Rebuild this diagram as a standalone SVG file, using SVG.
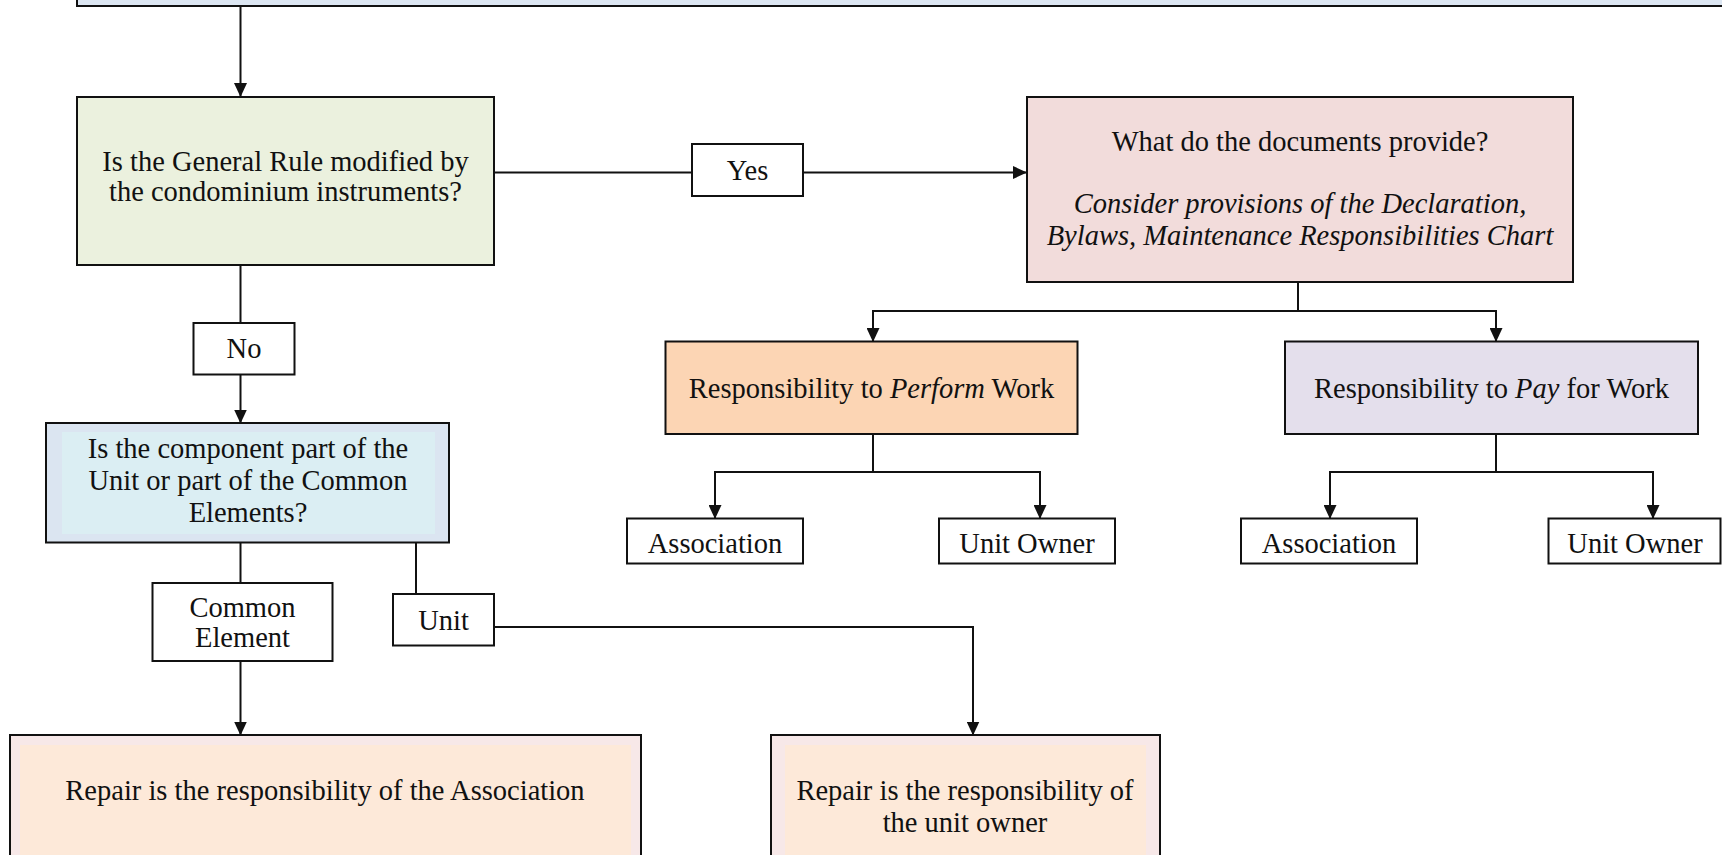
<svg xmlns="http://www.w3.org/2000/svg" width="1722" height="855" viewBox="0 0 1722 855">
<style>
text{font-family:"Liberation Serif","Times New Roman",serif;font-size:28.5px;fill:#111;text-anchor:middle}
.b{stroke:#111;stroke-width:2}
.c{fill:none;stroke:#111;stroke-width:2}
.i{font-style:italic}
</style>
<defs>
<marker id="ah" markerWidth="14" markerHeight="13" refX="13" refY="6.5" orient="auto" markerUnits="userSpaceOnUse">
<path d="M0,0 L14,6.5 L0,13 Z" fill="#111"/>
</marker>
</defs>
<rect width="1722" height="855" fill="#fff"/>
<g id="connectors">
<path class="c" d="M240.5,6 V96" marker-end="url(#ah)"/>
<path class="c" d="M494,172.5 H692"/>
<path class="c" d="M803,172.5 H1026" marker-end="url(#ah)"/>
<path class="c" d="M1298,282 V311 H873 V341" marker-end="url(#ah)"/>
<path class="c" d="M1298,311 H1496 V341" marker-end="url(#ah)"/>
<path class="c" d="M873,434 V472 H715 V518" marker-end="url(#ah)"/>
<path class="c" d="M873,472 H1040 V518" marker-end="url(#ah)"/>
<path class="c" d="M1496,434 V472 H1330 V518" marker-end="url(#ah)"/>
<path class="c" d="M1496,472 H1653 V518" marker-end="url(#ah)"/>
<path class="c" d="M240.5,265 V323"/>
<path class="c" d="M240.5,374.5 V422.5" marker-end="url(#ah)"/>
<path class="c" d="M240.5,542.5 V583"/>
<path class="c" d="M416,542.5 V594"/>
<path class="c" d="M240.5,661 V734.5" marker-end="url(#ah)"/>
<path class="c" d="M494,627 H973 V734.5" marker-end="url(#ah)"/>
</g>
<g id="top">
<rect class="b" x="77" y="-10" width="1660" height="16" fill="#dce6f2"/>
</g>
<g id="general-rule">
<rect class="b" x="77" y="97" width="417" height="168" fill="#ebf1de"/>
<text x="285.5" y="171">Is the General Rule modified by</text>
<text x="285.5" y="201">the condominium instruments?</text>
</g>
<g id="yes">
<rect class="b" x="692" y="144" width="111" height="52" fill="#fff"/>
<text x="747.5" y="180">Yes</text>
</g>
<g id="documents">
<rect class="b" x="1027" y="97" width="546" height="185" fill="#f2dcdb"/>
<text x="1300" y="151">What do the documents provide?</text>
<text class="i" x="1300" y="213">Consider provisions of the Declaration,</text>
<text class="i" x="1300" y="245">Bylaws, Maintenance Responsibilities Chart</text>
</g>
<g id="perform">
<rect class="b" x="665.5" y="341.5" width="412" height="92.5" fill="#fcd5b4"/>
<text x="871.5" y="398">Responsibility to <tspan class="i">Perform</tspan> Work</text>
</g>
<g id="pay">
<rect class="b" x="1285" y="341.5" width="413" height="92.5" fill="#e4dfec"/>
<text x="1491.5" y="398">Responsibility to <tspan class="i">Pay</tspan> for Work</text>
</g>
<g id="perform-association">
<rect class="b" x="627" y="518.5" width="176" height="45" fill="#fff"/>
<text x="715" y="553">Association</text>
</g>
<g id="perform-owner">
<rect class="b" x="939" y="518.5" width="176" height="45" fill="#fff"/>
<text x="1027" y="553">Unit Owner</text>
</g>
<g id="pay-association">
<rect class="b" x="1241" y="518.5" width="176" height="45" fill="#fff"/>
<text x="1329" y="553">Association</text>
</g>
<g id="pay-owner">
<rect class="b" x="1548.5" y="518.5" width="172" height="45" fill="#fff"/>
<text x="1635" y="553">Unit Owner</text>
</g>
<g id="no">
<rect class="b" x="193.5" y="323" width="101" height="51.5" fill="#fff"/>
<text x="244" y="358">No</text>
</g>
<g id="component">
<rect class="b" x="46" y="423" width="403" height="119.5" fill="#dbe5f1"/>
<rect x="62" y="432" width="373" height="102" fill="#dbeef3"/>
<text x="248" y="458">Is the component part of the</text>
<text x="248" y="490">Unit or part of the Common</text>
<text x="248" y="522">Elements?</text>
</g>
<g id="common-element">
<rect class="b" x="152.5" y="583" width="180" height="78" fill="#fff"/>
<text x="242.5" y="617">Common</text>
<text x="242.5" y="647">Element</text>
</g>
<g id="unit">
<rect class="b" x="393" y="594" width="101" height="51.5" fill="#fff"/>
<text x="443.5" y="630">Unit</text>
</g>
<g id="repair-association">
<rect class="b" x="10" y="735" width="631" height="140" fill="#f7e8e8"/>
<rect x="20" y="745" width="611" height="120" fill="#fde9d9"/>
<text x="325" y="800">Repair is the responsibility of the Association</text>
</g>
<g id="repair-owner">
<rect class="b" x="771" y="735" width="389" height="140" fill="#f7e8e8"/>
<rect x="785" y="745" width="361" height="120" fill="#fde9d9"/>
<text x="965" y="800">Repair is the responsibility of</text>
<text x="965" y="832">the unit owner</text>
</g>
</svg>
